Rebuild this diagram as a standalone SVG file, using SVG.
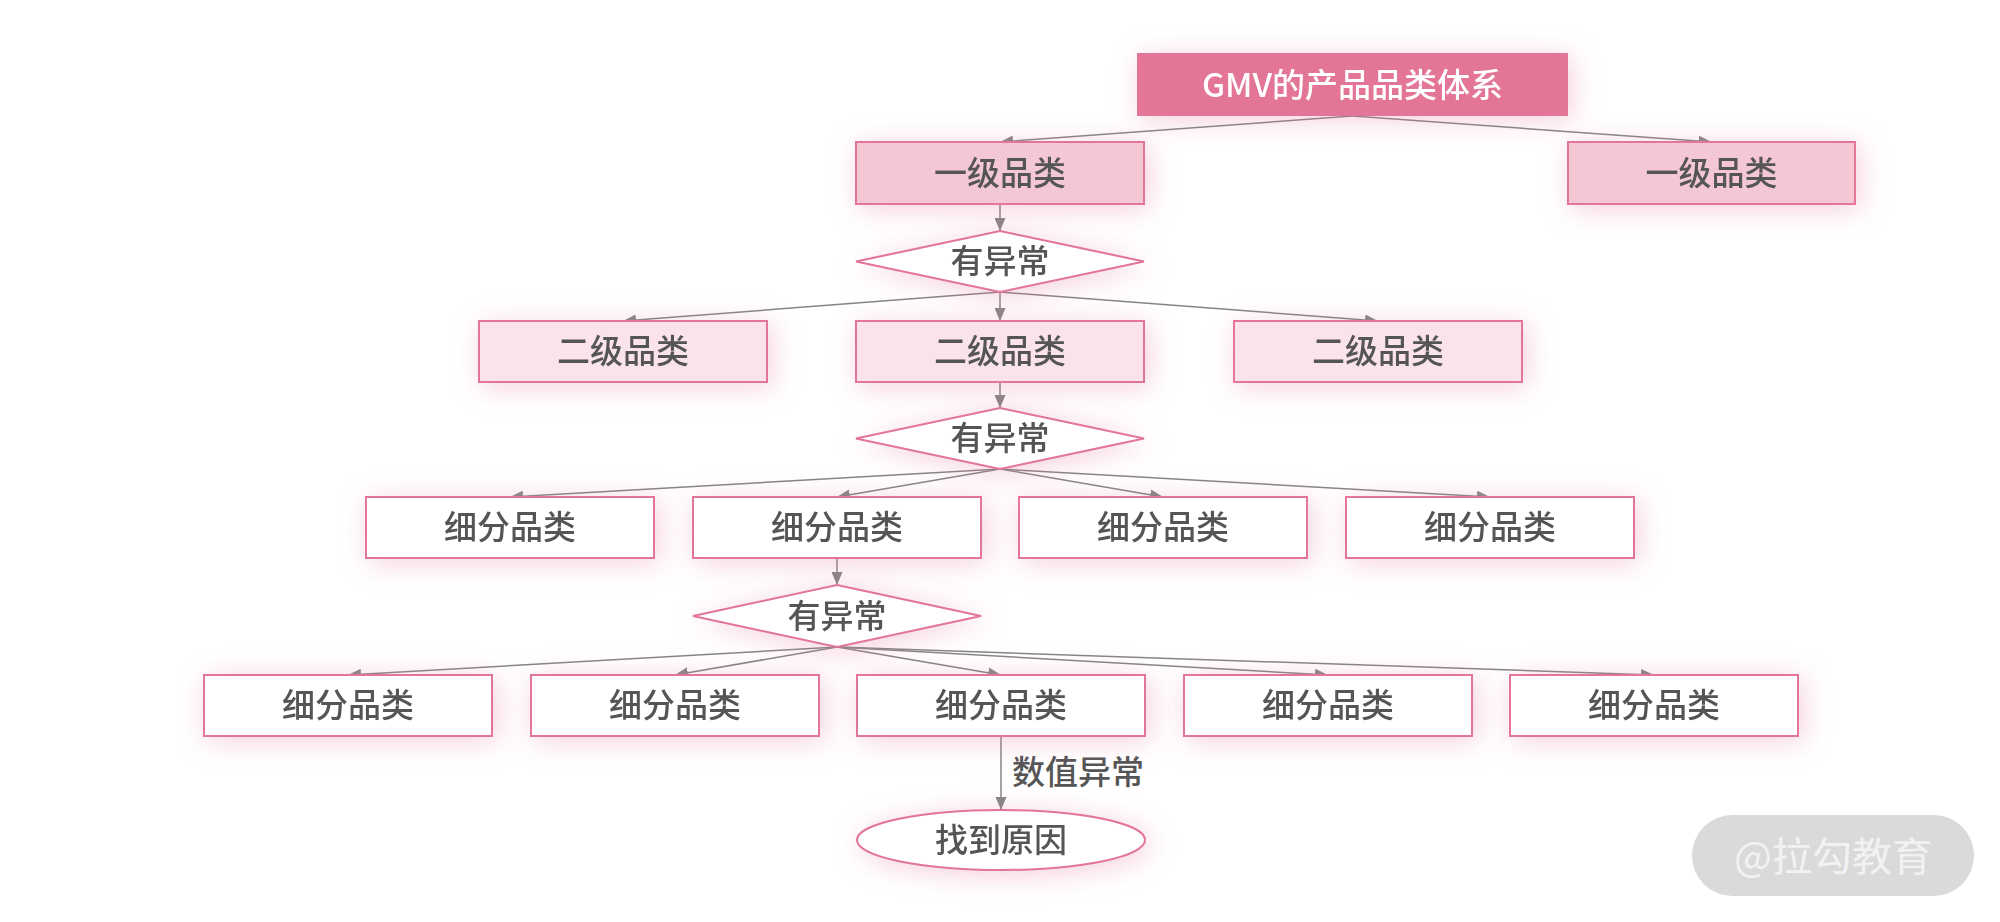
<svg xmlns="http://www.w3.org/2000/svg" width="2000" height="922" viewBox="0 0 2000 922">
<style>
.t{font-family:"Noto Sans CJK SC","Noto Sans",sans-serif;font-size:33px;fill:#555555;text-anchor:middle;font-weight:500}
.w{fill:#ffffff}
.node{stroke:#e37497;stroke-width:2}
.c{stroke:#858585;stroke-width:1.5;fill:none;marker-end:url(#arr)}
</style>
<defs>
<filter id="glow" x="-30%" y="-80%" width="160%" height="260%">
<feDropShadow dx="4" dy="4" stdDeviation="14" flood-color="#e37497" flood-opacity="0.35"/>
</filter>
<marker id="arr" markerUnits="userSpaceOnUse" markerWidth="13" markerHeight="11" refX="13" refY="5.5" orient="auto">
<path d="M0,0 L13,5.5 L0,11 z" fill="#858585"/>
</marker>
</defs>
<rect width="2000" height="922" fill="#ffffff"/>
<g id="connectors">
<line class="c" x1="1352.5" y1="116" x2="1000" y2="142"/>
<line class="c" x1="1352.5" y1="116" x2="1711.5" y2="142"/>
<line class="c" x1="1000" y1="204" x2="1000" y2="231"/>
<line class="c" x1="1000" y1="292" x2="623" y2="321"/>
<line class="c" x1="1000" y1="292" x2="1000" y2="321"/>
<line class="c" x1="1000" y1="292" x2="1378" y2="321"/>
<line class="c" x1="1000" y1="382" x2="1000" y2="408"/>
<line class="c" x1="1000" y1="469" x2="510" y2="497"/>
<line class="c" x1="1000" y1="469" x2="837" y2="497"/>
<line class="c" x1="1000" y1="469" x2="1163" y2="497"/>
<line class="c" x1="1000" y1="469" x2="1490" y2="497"/>
<line class="c" x1="837" y1="558" x2="837" y2="585"/>
<line class="c" x1="837" y1="647" x2="348" y2="675"/>
<line class="c" x1="837" y1="647" x2="675" y2="675"/>
<line class="c" x1="837" y1="647" x2="1001" y2="675"/>
<line class="c" x1="837" y1="647" x2="1328" y2="675"/>
<line class="c" x1="837" y1="647" x2="1654" y2="675"/>
<line class="c" x1="1001" y1="736" x2="1001" y2="810"/>
<text class="t" x="1012" y="784" style="text-anchor:start">数值异常</text>
</g>
<g id="root" filter="url(#glow)">
<rect x="1137" y="53" width="431" height="63" fill="#e37497"/>
<text class="t w" x="1352.5" y="96.5">GMV的产品品类体系</text>
</g>
<g id="l1a" filter="url(#glow)">
<rect class="node" x="856" y="142" width="288" height="62" fill="#f4c7d5"/>
<text class="t" x="1000" y="184.5">一级品类</text>
</g>
<g id="l1b" filter="url(#glow)">
<rect class="node" x="1568" y="142" width="287" height="62" fill="#f4c7d5"/>
<text class="t" x="1711.5" y="184.5">一级品类</text>
</g>
<g id="d1" filter="url(#glow)">
<polygon class="node" points="856,261.5 1000,231 1144,261.5 1000,292" fill="#ffffff"/>
<text class="t" x="1000" y="273">有异常</text>
</g>
<g id="l2a" filter="url(#glow)">
<rect class="node" x="479" y="321" width="288" height="61" fill="#fae3ea"/>
<text class="t" x="623" y="363">二级品类</text>
</g>
<g id="l2b" filter="url(#glow)">
<rect class="node" x="856" y="321" width="288" height="61" fill="#fae3ea"/>
<text class="t" x="1000" y="363">二级品类</text>
</g>
<g id="l2c" filter="url(#glow)">
<rect class="node" x="1234" y="321" width="288" height="61" fill="#fae3ea"/>
<text class="t" x="1378" y="363">二级品类</text>
</g>
<g id="d2" filter="url(#glow)">
<polygon class="node" points="856,438.5 1000,408 1144,438.5 1000,469" fill="#ffffff"/>
<text class="t" x="1000" y="450">有异常</text>
</g>
<g id="s1a" filter="url(#glow)">
<rect class="node" x="366" y="497" width="288" height="61" fill="#ffffff"/>
<text class="t" x="510" y="539">细分品类</text>
</g>
<g id="s1b" filter="url(#glow)">
<rect class="node" x="693" y="497" width="288" height="61" fill="#ffffff"/>
<text class="t" x="837" y="539">细分品类</text>
</g>
<g id="s1c" filter="url(#glow)">
<rect class="node" x="1019" y="497" width="288" height="61" fill="#ffffff"/>
<text class="t" x="1163" y="539">细分品类</text>
</g>
<g id="s1d" filter="url(#glow)">
<rect class="node" x="1346" y="497" width="288" height="61" fill="#ffffff"/>
<text class="t" x="1490" y="539">细分品类</text>
</g>
<g id="d3" filter="url(#glow)">
<polygon class="node" points="693,616 837,585 981,616 837,647" fill="#ffffff"/>
<text class="t" x="837" y="627.5">有异常</text>
</g>
<g id="s2a" filter="url(#glow)">
<rect class="node" x="204" y="675" width="288" height="61" fill="#ffffff"/>
<text class="t" x="348" y="717">细分品类</text>
</g>
<g id="s2b" filter="url(#glow)">
<rect class="node" x="531" y="675" width="288" height="61" fill="#ffffff"/>
<text class="t" x="675" y="717">细分品类</text>
</g>
<g id="s2c" filter="url(#glow)">
<rect class="node" x="857" y="675" width="288" height="61" fill="#ffffff"/>
<text class="t" x="1001" y="717">细分品类</text>
</g>
<g id="s2d" filter="url(#glow)">
<rect class="node" x="1184" y="675" width="288" height="61" fill="#ffffff"/>
<text class="t" x="1328" y="717">细分品类</text>
</g>
<g id="s2e" filter="url(#glow)">
<rect class="node" x="1510" y="675" width="288" height="61" fill="#ffffff"/>
<text class="t" x="1654" y="717">细分品类</text>
</g>
<g id="end" filter="url(#glow)">
<ellipse class="node" cx="1001" cy="840" rx="144" ry="30" fill="#ffffff"/>
<text class="t" x="1001" y="851.5">找到原因</text>
</g>
<g id="watermark">
<rect x="1692" y="815" width="282" height="81" rx="40.5" fill="#dadada"/>
<text x="1833" y="871" style="font-family:'Noto Sans CJK SC',sans-serif;font-size:40px;fill:#f2f2f2;text-anchor:middle">@拉勾教育</text>
</g>
</svg>
